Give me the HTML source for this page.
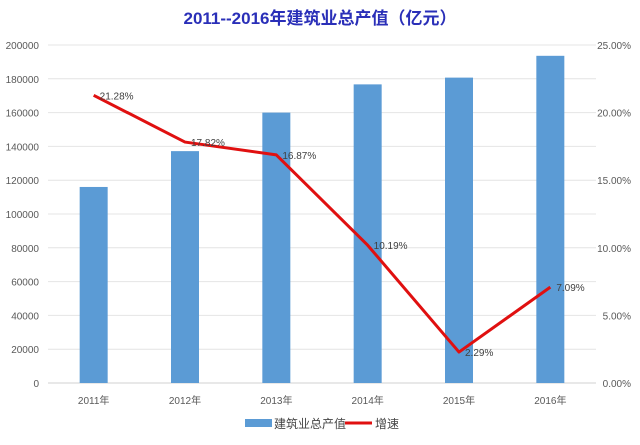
<!DOCTYPE html>
<html><head><meta charset="utf-8"><style>
body{margin:0;background:#fff;}
svg text{font-family:"Liberation Sans","Noto Sans CJK SC",sans-serif;}
</style></head><body>
<svg id="chart" width="640" height="440">
<text x="320" y="24" text-anchor="middle" font-size="17" font-weight="bold" fill="#2a2fb8">2011--2016年建筑业总产值（亿元）</text>
<g id="grid"></g><g id="bars"></g><g id="line"></g><g id="labels"></g>
<g>
<rect x="245" y="419" width="27" height="8" fill="#5b9bd5"/>
<text x="274" y="428" font-size="12" fill="#444">建筑业总产值</text>
<line x1="345" y1="423" x2="372" y2="423" stroke="#e01010" stroke-width="3"/>
<text x="375" y="428" font-size="12" fill="#444">增速</text>
</g>
</svg>
<script>
const categories=["2011年","2012年","2013年","2014年","2015年","2016年"];
const outputValues=[116000,137200,160000,176700,180700,193600];
const growthRates=[21.28,17.82,16.87,10.19,2.29,7.09];
const leftTicks=[0,20000,40000,60000,80000,100000,120000,140000,160000,180000,200000];
const rightTicks=[0,5,10,15,20,25];
const NS="http://www.w3.org/2000/svg";
const X0=48,X1=596,Y0=383,Y1=45;
const band=(X1-X0)/categories.length;
const xc=i=>X0+band*(i+0.5);
const yL=v=>Y0-(v/200000)*(Y0-Y1);
const yR=v=>Y0-(v/25)*(Y0-Y1);
function mk(tag,attrs,parent,txt){const e=document.createElementNS(NS,tag);for(const k in attrs)e.setAttribute(k,attrs[k]);if(txt!==undefined)e.textContent=txt;document.getElementById(parent).appendChild(e);return e;}
leftTicks.forEach(v=>{
  const g=mk('line',{x1:X0,x2:X1,y1:yL(v),y2:yL(v),stroke:v===0?'#d0d0d0':'#e4e4e4','stroke-width':1},'grid');
  
  
  const t=mk('text',{x:39,y:yL(v)+4,'text-anchor':'end','font-size':10,fill:'#595959'},'grid',String(v));
  
  
});
rightTicks.forEach(v=>{
  const t=mk('text',{x:631,y:yR(v)+4,'text-anchor':'end','font-size':10,fill:'#595959'},'grid',v.toFixed(2)+'%');
  
  
});
categories.forEach((c,i)=>{
  const t=mk('text',{x:xc(i),y:404,'text-anchor':'middle','font-size':10,fill:'#595959'},'grid',c);
  
  
  const b=mk('rect',{x:xc(i)-14,y:yL(outputValues[i]),width:28,height:Y0-yL(outputValues[i]),fill:'#5b9bd5'},'bars');
  
  
});
const pts=growthRates.map((r,i)=>xc(i)+','+yR(r)).join(' ');
const pl=mk('polyline',{points:pts,fill:'none',stroke:'#e01010','stroke-width':3,'stroke-linejoin':'round'},'line');


growthRates.forEach((r,i)=>{
  const t=mk('text',{x:xc(i)+6,y:yR(r)+4,'font-size':10,fill:'#404040'},'labels',r.toFixed(2)+'%');
  
  
});
</script>
</body></html>
